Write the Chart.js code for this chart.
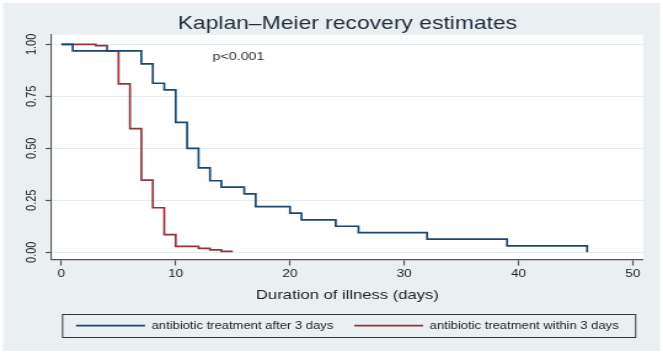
<!DOCTYPE html>
<html>
<head>
<meta charset="utf-8">
<script src="https://cdn.jsdelivr.net/npm/chart.js@4.4.1/dist/chart.umd.min.js"></script>
<style>
  html, body { margin: 0; padding: 0; background: #ffffff; overflow: hidden; }
  /* the reference graph is stretched horizontally: draw at 539 px wide and stretch to 663 px */
  #wrap { position: absolute; left: 0; top: 0; width: 539px; height: 354px; transform: scaleX(1.2301); transform-origin: 0 0; }
  canvas { display: block; }
</style>
</head>
<body>
<div id="wrap"><canvas id="km" width="539" height="354"></canvas></div>
<script>
// ---- data ----
const afterDays  = [0, 1, 7, 8, 9, 10, 11, 12, 13, 14, 16, 17, 20, 21, 24, 26, 32, 39, 46];
const afterSurv  = [1, 0.969, 0.906, 0.813, 0.781, 0.625, 0.5, 0.406, 0.344, 0.313, 0.281, 0.219, 0.188, 0.156, 0.125, 0.094, 0.063, 0.031, 0];
const withinDays = [0, 3, 4, 5, 6, 7, 8, 9, 10, 12, 13, 14, 15];
const withinSurv = [1, 0.994, 0.969, 0.81, 0.595, 0.347, 0.214, 0.085, 0.028, 0.019, 0.011, 0.004, 0.004];
const seriesLabels = ['antibiotic treatment after 3 days', 'antibiotic treatment within 3 days'];
const xTicks = [0, 10, 20, 30, 40, 50];
const yTicks = [0, 0.25, 0.5, 0.75, 1];
const titleText = 'Kaplan–Meier recovery estimates';
const xTitleText = 'Duration of illness (days)';
const pValueText = 'p<0.001';
const pValuePos = [15.5, 0.94];

const FONT = 'Arial, "Liberation Sans", sans-serif';
const AXIS = '#555555';
const TXT = '#222222';

const toPoints = (xs, ys) => xs.map((x, i) => ({ x: x, y: ys[i] }));

const decor = {
  id: 'decor',
  beforeDraw(chart) {
    const { ctx, chartArea: a } = chart;
    ctx.save();
    ctx.fillStyle = '#ffffff';
    ctx.fillRect(0, 0, chart.width, chart.height);
    ctx.fillStyle = '#eaf0f2';
    ctx.fillRect(2.4, 3, chart.width - 4.8, chart.height - 6);
    ctx.fillStyle = '#ffffff';
    ctx.fillRect(a.left, a.top, a.right - a.left, a.bottom - a.top);
    ctx.restore();
  },
  afterDraw(chart) {
    const { ctx } = chart;
    const hb = chart.legend.legendHitBoxes;
    ctx.save();
    if (hb && hb.length) {
      const cy = hb[0].top + hb[0].height / 2;
      const l = hb[0].left - 11;
      const r = hb[hb.length - 1].left + hb[hb.length - 1].width + 13.8;
      ctx.strokeStyle = '#333333';
      ctx.lineWidth = 1;
      ctx.strokeRect(l, Math.round(cy - 11.5) + 0.5, r - l, 23);
    }
    const px = chart.scales.x.getPixelForValue(pValuePos[0]);
    const py = chart.scales.y.getPixelForValue(pValuePos[1]);
    ctx.font = '11.6px ' + FONT;
    ctx.fillStyle = '#333333';
    ctx.textAlign = 'center';
    ctx.textBaseline = 'middle';
    ctx.fillText(pValueText, px, py);
    ctx.restore();
  }
};

new Chart(document.getElementById('km'), {
  type: 'line',
  data: {
    datasets: [
      { label: seriesLabels[0], data: toPoints(afterDays, afterSurv), borderColor: '#1a476f', backgroundColor: '#1a476f',
        borderWidth: 1.7, stepped: true, pointRadius: 0, fill: false },
      { label: seriesLabels[1], data: toPoints(withinDays, withinSurv), borderColor: '#90353b', backgroundColor: '#90353b',
        borderWidth: 1.7, stepped: true, pointRadius: 0, fill: false }
    ]
  },
  options: {
    responsive: false,
    animation: false,
    devicePixelRatio: 1,
    layout: { padding: { top: 3, right: 16.2, bottom: 13, left: 0 } },
    plugins: {
      tooltip: { enabled: false },
      title: {
        display: true, text: titleText, fullSize: false, color: '#1e2a3a',
        font: { family: FONT, size: 18.6, weight: 'normal' }, padding: { top: 9.5, bottom: 0 }
      },
      legend: {
        position: 'bottom', fullSize: false,
        labels: {
          usePointStyle: true, pointStyle: 'line', pointStyleWidth: 56, padding: 17,
          color: TXT, font: { family: FONT, size: 10.6 }
        }
      }
    },
    scales: {
      x: {
        type: 'linear', min: -0.85, max: 50.9,
        afterBuildTicks: (s) => { s.ticks = xTicks.map(v => ({ value: v })); },
        afterFit: (s) => { s.height = 43.9; },
        ticks: { color: TXT, font: { family: FONT, size: 11 }, padding: 1.9, maxRotation: 0, callback: (v) => String(v) },
        grid: { drawOnChartArea: false, drawTicks: true, tickLength: 6, tickColor: AXIS, tickWidth: 1.2 },
        border: { display: true, color: AXIS, width: 1.3 },
        title: { display: true, text: xTitleText, color: TXT, font: { family: FONT, size: 13.5 }, padding: { top: 0, bottom: 0.3 } }
      },
      y: {
        type: 'linear', min: -0.035, max: 1.046,
        afterBuildTicks: (s) => { s.ticks = yTicks.map(v => ({ value: v })); },
        afterFit: (s) => { s.width = 42; },
        ticks: { color: TXT, font: { family: FONT, size: 11 }, padding: 0.6, minRotation: 90, maxRotation: 90,
                 crossAlign: 'center', callback: (v) => Number(v).toFixed(2) },
        grid: { color: '#e4ecee', lineWidth: 1, drawTicks: true, tickLength: 5, tickColor: AXIS, tickWidth: 1.2 },
        border: { display: true, color: AXIS, width: 1.1 }
      }
    }
  },
  plugins: [decor]
});
</script>
</body>
</html>
